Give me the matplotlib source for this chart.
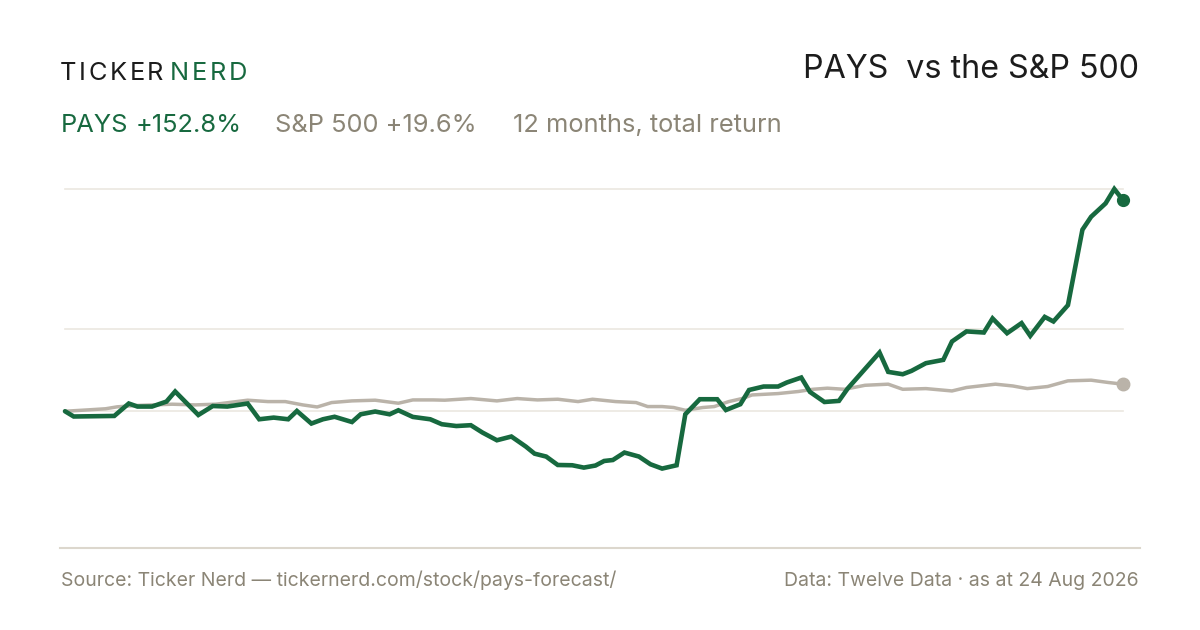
import matplotlib
matplotlib.use("Agg")
import matplotlib.pyplot as plt

# ---------------- data ----------------
pays_days = [0, 3, 17, 22, 25, 30, 35, 38, 46, 51, 56, 63, 67, 72, 77, 80, 85, 89, 93,
             99, 102, 107, 112, 115, 120, 126, 130, 135, 140, 144, 149, 154, 159, 162,
             166, 170, 175, 179, 183, 186, 189, 193, 198, 202, 206, 211, 214, 219, 225,
             228, 233, 236, 241, 246, 249, 254, 257, 262, 267, 270, 281, 284, 289, 292,
             297, 303, 306, 311, 317, 320, 325, 330, 333, 338, 341, 346, 351, 354, 359,
             362, 365]
pays_ret = [0.0, -3.8, -3.4, 5.6, 3.4, 3.4, 7.0, 14.3, -2.7, 3.8, 3.4, 5.6, -5.8, -4.6,
            -5.8, 0.2, -8.9, -5.8, -4.0, -7.8, -2.2, -0.2, -2.2, 0.7, -4.1, -5.8, -9.4,
            -10.7, -10.1, -15.4, -21.0, -18.3, -25.6, -30.7, -32.8, -38.9, -39.1, -40.8,
            -39.3, -36.0, -35.3, -29.9, -32.8, -38.4, -41.5, -39.1, -2.2, 8.7, 8.7, 0.9,
            5.1, 15.4, 17.9, 17.9, 20.8, 24.4, 14.0, 6.7, 7.5, 16.4, 42.5, 28.5, 26.8,
            29.2, 34.8, 37.2, 50.5, 57.8, 57.0, 67.2, 56.5, 63.8, 54.6, 68.3, 65.0, 76.8,
            131.4, 140.8, 150.5, 160.9, 152.8]

spx_days = [0, 8, 14, 18, 25, 37, 45, 52, 63, 70, 76, 82, 87, 92, 99, 107, 115, 120, 127,
            131, 140, 149, 156, 163, 170, 177, 182, 190, 197, 201, 206, 210, 214, 220,
            224, 229, 234, 237, 246, 253, 258, 263, 269, 276, 284, 289, 297, 306, 311,
            321, 327, 332, 339, 346, 354, 360, 365]
spx_ret = [0.0, 1.0, 1.8, 3.2, 4.2, 5.1, 4.6, 5.1, 8.0, 7.0, 7.0, 4.6, 3.1, 6.3, 7.5, 8.0,
           5.8, 8.2, 8.2, 8.0, 9.2, 7.5, 9.2, 8.2, 8.7, 7.0, 8.7, 7.0, 6.3, 3.4, 3.4, 2.7,
           0.7, 2.7, 3.4, 7.0, 9.4, 11.8, 12.8, 14.3, 15.9, 16.7, 15.9, 18.8, 19.6, 15.9,
           16.4, 14.7, 17.2, 19.6, 18.3, 16.4, 17.9, 22.0, 22.5, 20.8, 19.6]

ticker = "PAYS"
pays_label = "+152.8%"
spx_label = "S&P 500 +19.6%"
period_label = "12 months, total return"
title = "PAYS  vs the S&P 500"
source_text = "Source: Ticker Nerd \u2014 tickernerd.com/stock/pays-forecast/"
data_text = "Data: Twelve Data \u00b7 as at 24 Aug 2026"
y_floor = -99.0

# ---------------- style ----------------
GREEN = "#17693f"
DARK = "#1c1c1c"
GREY_TXT = "#8b8576"
GREY_LINE = "#bab3a9"
GRID = "#ebe7e0"
AXIS = "#dcd7cd"
FONT = ["Inter", "DejaVu Sans"]

W, H = 1200, 630
fig = plt.figure(figsize=(12, 6.3), dpi=100)
fig.patch.set_facecolor("white")


def fx(px):
    return px / W


def fy(py):
    return 1 - py / H


# plot area: x 65..1123, y 189..548
ax = fig.add_axes([fx(65), fy(548), fx(1123 - 65), (548 - 189) / H])
ax.set_facecolor("none")
ymax = max(pays_ret)
ymin = min(pays_ret)
ax.set_xlim(0, 365)
ax.set_ylim(y_floor, ymax)

grid_vals = [0.0, (ymax + ymin) / 2, ymax]
for g in grid_vals:
    ax.axhline(g, color=GRID, lw=1.2, zorder=1, clip_on=False)
ax.axhline(y_floor, xmin=-5 / 1058, xmax=1 + 17 / 1058, color=AXIS, lw=1.5,
           clip_on=False, zorder=1)

ax.plot(spx_days, spx_ret, color=GREY_LINE, lw=2.5, solid_joinstyle="round",
        solid_capstyle="round", zorder=2, clip_on=False)
ax.plot(spx_days[-1:], spx_ret[-1:], "o", color=GREY_LINE, ms=9, zorder=3, clip_on=False)
ax.plot(pays_days, pays_ret, color=GREEN, lw=3.3, solid_joinstyle="miter",
        solid_capstyle="round", zorder=4, clip_on=False)
ax.plot(pays_days[-1:], pays_ret[-1:], "o", color=GREEN, ms=8.5, zorder=5, clip_on=False)

for s in ax.spines.values():
    s.set_visible(False)
ax.set_xticks([])
ax.set_yticks([])

# ---------------- texts ----------------
renderer = fig.canvas.get_renderer()


def tracked(x, y, s, color, size, track):
    for ch in s:
        t = fig.text(fx(x), fy(y), ch, color=color, fontsize=size, family=FONT,
                     ha="left", va="baseline")
        bb = t.get_window_extent(renderer=renderer)
        x += bb.width + track
    return x


xend = tracked(60, 79.5, "TICKER", DARK, 18.3, 2.6)
tracked(xend + 4, 79.5, "NERD", GREEN, 18.3, 2.6)

fig.text(fx(1139), fy(77.5), title, color=DARK, fontsize=23.2, family=FONT,
         ha="right", va="baseline")

SUB = 18.3
fig.text(fx(61), fy(132), ticker, color=GREEN, fontsize=SUB, family=FONT,
         ha="left", va="baseline")
fig.text(fx(136), fy(132), pays_label, color=GREEN, fontsize=SUB, family=FONT,
         ha="left", va="baseline")
fig.text(fx(275), fy(132), spx_label, color=GREY_TXT, fontsize=SUB, family=FONT,
         ha="left", va="baseline")
fig.text(fx(513), fy(132), period_label, color=GREY_TXT, fontsize=SUB, family=FONT,
         ha="left", va="baseline")

fig.text(fx(61), fy(586), source_text, color=GREY_TXT, fontsize=14, family=FONT,
         ha="left", va="baseline")
fig.text(fx(1139), fy(586), data_text, color=GREY_TXT, fontsize=14, family=FONT,
         ha="right", va="baseline")

fig.savefig("out.png", dpi=100, facecolor="white")
